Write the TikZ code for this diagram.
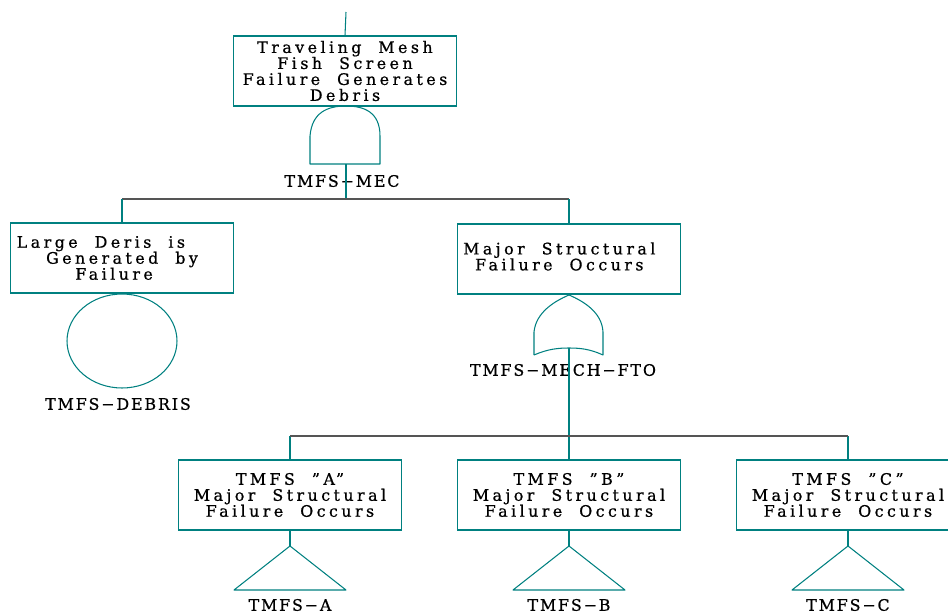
\documentclass[tikz,border=0pt]{standalone}
\usepackage{fontspec}
\setmainfont{DejaVu Serif}[LetterSpace=22, WordSpace=2, FakeBold=0.8]
\usetikzlibrary{shapes.geometric}

\definecolor{ftteal}{RGB}{0,128,128}
\definecolor{ftbar}{RGB}{85,85,85}
\newcommand{\ftfont}{\fontsize{9.0}{9.1}\selectfont}
\newcommand{\tagfont}{\fontsize{9.0}{9.1}\selectfont\addfontfeatures{LetterSpace=12}}

\tikzset{
  event/.style={draw=ftteal, line width=0.6pt, rectangle, minimum width=4.46cm,
    minimum height=1.4cm, align=center, inner sep=0pt, font=\ftfont},
  basic/.style={draw=ftteal, line width=0.6pt, ellipse, inner sep=0pt,
    minimum width=2.2cm, minimum height=1.88cm},
  gate/.style={draw=ftteal, line width=0.6pt, line join=round},
  wire/.style={ftteal, line width=0.6pt},
  bar/.style={ftbar, line width=0.6pt},
  tag/.style={font=\tagfont, inner sep=0pt},
}

\begin{document}
\begin{tikzpicture}[x=0.02cm, y=-0.02cm]
  \useasboundingbox (0,0) rectangle (948,616);

  % Top event
  \coordinate (topin) at (346,12);
  \node[event] (topbox) at (345,71)
    {Traveling Mesh\\ Fish Screen\\ Failure Generates\\ Debris};
  \draw[wire] (topin) -- (topbox.north);

  % AND gate
  \coordinate (andin) at (346,106);
  \coordinate (andout) at (346,164);
  \draw[gate] (310,164) -- (310,136)
    .. controls (312,112) and (328,106) .. (andin)
    .. controls (364,106) and (380,112) .. (380,136) -- (380,164) -- cycle;
  \node[tag] (meclabel) at (342,181) {TMFS−MEC};
  \coordinate (mecbar) at (346,199);
  \draw[wire] (andout) -- (mecbar);

  % Second level
  \node[event] (debrisbox) at (122,258)
    {Large Deris is\hspace*{24pt}\\ Generated by\hspace*{21pt}\\ Failure\hspace*{9pt}};
  \node[event, text depth=3pt] (structbox) at (569,259)
    {Major Structural\hspace*{11pt}\\ Failure Occurs\hspace*{11pt}};
  \draw[bar] (debrisbox.north |- mecbar) -- (structbox.north |- mecbar);
  \draw[wire] (debrisbox.north |- mecbar) -- (debrisbox.north);
  \draw[wire] (structbox.north |- mecbar) -- (structbox.north);

  % Basic event
  \node[basic] (debrisbasic) at (122,341) {};
  \node[tag] (debrislabel) at (118,404) {TMFS−DEBRIS};

  % OR gate
  \coordinate (orin) at (569,295);
  \coordinate (orout) at (569,348);
  \draw[gate] (534,355) -- (534,332)
    .. controls (536,312) and (555,301) .. (orin)
    .. controls (583,301) and (602,312) .. (603,332) -- (603,355)
    .. controls (590,349) and (580,348) .. (orout)
    .. controls (558,348) and (548,349) .. (534,355);
  \node[tag] (ftolabel) at (563,370) {TMFS−MECH−FTO};
  \coordinate (ftobar) at (569,436);
  \draw[wire] (orout) -- (ftobar);

  % Bottom events and transfers
  \foreach \n/\x/\t in {a/290/A, b/569/B, c/848/C} {
    \node[event] (tmfs\n) at (\x,495)
      {TMFS "\t"\\ Major Structural\\ Failure Occurs};
    \coordinate (apex\n) at (\x,546);
    \draw[wire] (tmfs\n.south) -- (apex\n);
    \draw[gate] (apex\n) -- ++(-56,44) -- ++(112,0) -- cycle;
    \node[tag] (lbl\n) at (\x,605) {TMFS−\t};
    \draw[wire] (tmfs\n.north |- ftobar) -- (tmfs\n.north);
  }
  \draw[bar] (tmfsa.north |- ftobar) -- (tmfsc.north |- ftobar);

\end{tikzpicture}
\end{document}
